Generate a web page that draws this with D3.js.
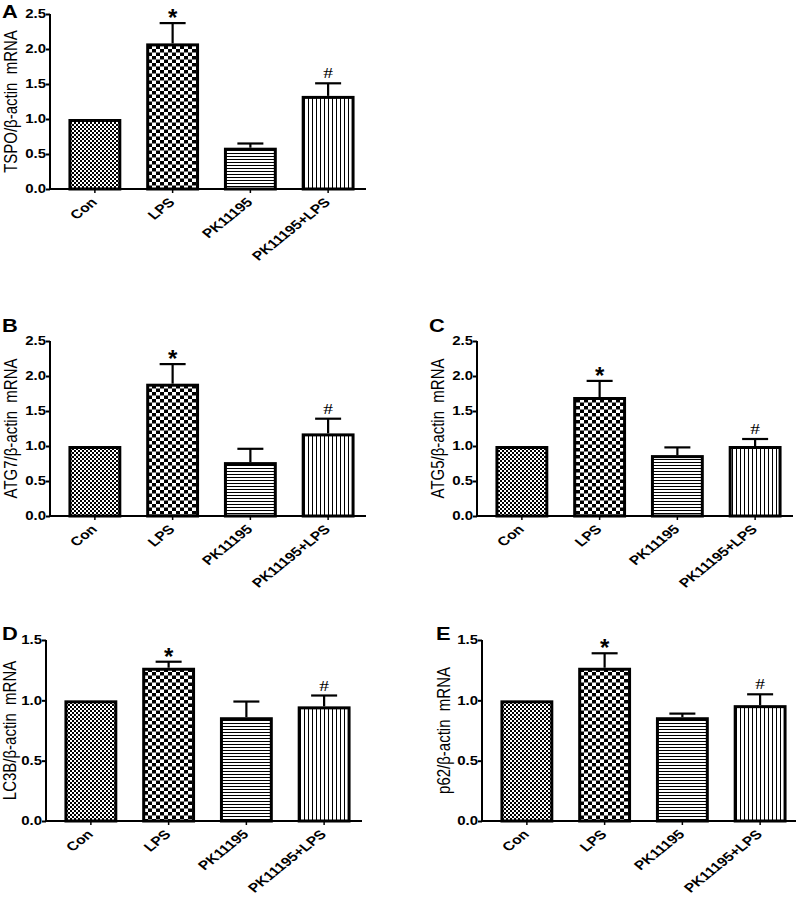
<!DOCTYPE html>
<html>
<head>
<meta charset="utf-8">
<script src="https://cdn.jsdelivr.net/npm/d3@7"></script>
<style>
  body { margin: 0; background: #fff; }
  text { font-family: "Liberation Sans", Arial, sans-serif; }
  .tick text { font-weight: bold; font-size: 12px; }
</style>
</head>
<body>
<div id="figure"></div>
<script>
// groups and values (mean, upper SEM)
var groups = ["Con", "LPS", "PK11195", "PK11195+LPS"];
var marks = ["", "*", "", "#"];

var tspoMean = [1.00, 2.08, 0.59, 1.33];
var tspoErr  = [0.00, 0.29, 0.06, 0.18];
var atg7Mean = [1.00, 1.89, 0.77, 1.18];
var atg7Err  = [0.00, 0.28, 0.19, 0.21];
var atg5Mean = [1.00, 1.70, 0.87, 1.00];
var atg5Err  = [0.00, 0.23, 0.11, 0.10];
var lc3bMean = [1.00, 1.27, 0.86, 0.95];
var lc3bErr  = [0.00, 0.05, 0.13, 0.09];
var p62Mean  = [1.00, 1.27, 0.86, 0.96];
var p62Err   = [0.00, 0.12, 0.03, 0.09];

var ticksTall = [0, 0.5, 1.0, 1.5, 2.0, 2.5];
var ticksShort = [0, 0.5, 1.0, 1.5];

var W = 796, H = 906;
var sx = 1.25; // the figure is stretched sideways, text too

var svg = d3.select("#figure").append("svg")
    .attr("width", W)
    .attr("height", H);

// fill patterns, one per group
var defs = svg.append("defs");

function patternBox(id, w, h) {
  var p = defs.append("pattern")
      .attr("id", id)
      .attr("patternUnits", "userSpaceOnUse")
      .attr("width", w).attr("height", h);
  p.append("rect").attr("width", w).attr("height", h).attr("fill", "#fff");
  return p;
}

var pCon = patternBox("pat-con", 4, 4);
pCon.append("rect").attr("x", 0).attr("y", 0).attr("width", 2).attr("height", 2).attr("fill", "#000");
pCon.append("rect").attr("x", 2).attr("y", 2).attr("width", 2).attr("height", 2).attr("fill", "#000");

var pLps = patternBox("pat-lps", 8, 7);
pLps.append("rect").attr("x", 0).attr("y", 0).attr("width", 4).attr("height", 3.5).attr("fill", "#000");
pLps.append("rect").attr("x", 4).attr("y", 3.5).attr("width", 4).attr("height", 3.5).attr("fill", "#000");

var pPk = patternBox("pat-pk", 3, 3);
pPk.append("rect").attr("x", 0).attr("y", 0).attr("width", 3).attr("height", 1).attr("fill", "#000");

var pPkl = patternBox("pat-pklps", 4, 4);
pPkl.append("rect").attr("x", 0).attr("y", 0).attr("width", 1).attr("height", 4).attr("fill", "#000");

var patterns = ["url(#pat-con)", "url(#pat-lps)", "url(#pat-pk)", "url(#pat-pklps)"];

var panels = [
  {letter: "A", lx: 2,   ly: 18,  left: 50,  top: 14,  bottom: 189, ylx: 17,  ymax: 2.5, ticks: ticksTall,  label: "TSPO/β-actin  mRNA", mean: tspoMean, err: tspoErr},
  {letter: "B", lx: 2,   ly: 332, left: 50,  top: 341, bottom: 516, ylx: 17,  ymax: 2.5, ticks: ticksTall,  label: "ATG7/β-actin  mRNA", mean: atg7Mean, err: atg7Err},
  {letter: "C", lx: 429, ly: 332, left: 477, top: 341, bottom: 516, ylx: 444, ymax: 2.5, ticks: ticksTall,  label: "ATG5/β-actin  mRNA", mean: atg5Mean, err: atg5Err},
  {letter: "D", lx: 2,   ly: 640, left: 46,  top: 640, bottom: 821, ylx: 16,  ymax: 1.5, ticks: ticksShort, label: "LC3B/β-actin  mRNA", mean: lc3bMean, err: lc3bErr},
  {letter: "E", lx: 436, ly: 640, left: 482, top: 640, bottom: 821, ylx: 450, ymax: 1.5, ticks: ticksShort, label: "p62/β-actin  mRNA",  mean: p62Mean,  err: p62Err}
];

function drawPanel(cfg) {
  var g = svg.append("g");
  var right = cfg.left + 316;

  var x = d3.scaleBand()
      .domain(groups)
      .range([cfg.left + 6, cfg.left + 6 + 311])
      .paddingInner(0.32)
      .paddingOuter(0.16);

  var y = d3.scaleLinear()
      .domain([0, cfg.ymax])
      .range([cfg.bottom, cfg.top]);

  var rows = groups.map(function(gr, i) {
    return {name: gr, mean: cfg.mean[i], err: cfg.err[i], mark: marks[i], fill: patterns[i]};
  });

  // error bars (upper only)
  var eb = g.selectAll(".err").data(rows.filter(function(d) { return d.err > 0; }))
    .enter().append("g").attr("class", "err");
  eb.append("line")
      .attr("x1", function(d) { return x(d.name) + x.bandwidth() / 2; })
      .attr("x2", function(d) { return x(d.name) + x.bandwidth() / 2; })
      .attr("y1", function(d) { return y(d.mean); })
      .attr("y2", function(d) { return y(d.mean + d.err); })
      .attr("stroke", "#000").attr("stroke-width", 2.2);
  eb.append("line")
      .attr("x1", function(d) { return x(d.name) + x.bandwidth() / 2 - 13; })
      .attr("x2", function(d) { return x(d.name) + x.bandwidth() / 2 + 13; })
      .attr("y1", function(d) { return y(d.mean + d.err); })
      .attr("y2", function(d) { return y(d.mean + d.err); })
      .attr("stroke", "#000").attr("stroke-width", 2.2);

  // bars
  g.selectAll(".bar").data(rows)
    .enter().append("rect")
      .attr("class", "bar")
      .attr("x", function(d) { return x(d.name) + 1.5; })
      .attr("width", x.bandwidth() - 3)
      .attr("y", function(d) { return y(d.mean) + 1.5; })
      .attr("height", function(d) { return y(0) - y(d.mean) - 1.5; })
      .attr("fill", function(d) { return d.fill; })
      .attr("stroke", "#000")
      .attr("stroke-width", 3);

  // significance marks
  g.selectAll(".sig").data(rows.filter(function(d) { return d.mark; }))
    .enter().append("text")
      .attr("class", "sig")
      .attr("transform", function(d) {
        var yy = d.mark == "*" ? y(d.mean + d.err) + 3 : y(d.mean + d.err) - 5;
        return "translate(" + (x(d.name) + x.bandwidth() / 2) + "," + yy + ") scale(" + (d.mark == "*" ? 1 : 1.3) + ",1)";
      })
      .attr("text-anchor", "middle")
      .style("font-family", function(d) { return d.mark == "*" ? "'Liberation Sans', Arial" : "'Liberation Serif', 'Times New Roman'"; })
      .style("font-weight", function(d) { return d.mark == "*" ? "bold" : "normal"; })
      .style("font-size", function(d) { return d.mark == "*" ? "24px" : "15px"; })
      .text(function(d) { return d.mark; });

  // y axis
  var yAxis = g.append("g")
      .attr("transform", "translate(" + cfg.left + ",0)")
      .call(d3.axisLeft(y).tickValues(cfg.ticks).tickFormat(d3.format(".1f")).tickSize(4));
  yAxis.select(".domain").attr("stroke-width", 2).attr("d", "M0," + cfg.top + "V" + cfg.bottom);
  yAxis.selectAll(".tick line").attr("stroke-width", 2);
  yAxis.selectAll(".tick text")
      .attr("fill", "#000")
      .attr("x", -4 / sx)
      .attr("transform", "scale(" + sx + ",1)");

  // x axis
  var xAxis = g.append("g")
      .attr("transform", "translate(0," + cfg.bottom + ")")
      .call(d3.axisBottom(x).tickSize(4).tickFormat(""));
  xAxis.select(".domain").attr("stroke-width", 2).attr("d", "M" + cfg.left + ",0H" + right);
  xAxis.selectAll(".tick line").attr("stroke-width", 1.5);

  g.selectAll(".xlab").data(groups)
    .enter().append("text")
      .attr("class", "xlab")
      .attr("transform", function(d) {
        return "translate(" + (x(d) + x.bandwidth() / 2 + 3) + "," + (cfg.bottom + 14) + ") scale(" + sx + ",1) rotate(-45)";
      })
      .attr("text-anchor", "end")
      .style("font-weight", "bold")
      .style("font-size", "12.5px")
      .text(function(d) { return d; });

  // y label
  g.append("text")
      .attr("transform", "translate(" + cfg.ylx + "," + ((cfg.top + cfg.bottom) / 2) + ") scale(" + sx + ",1) rotate(-90)")
      .attr("text-anchor", "middle")
      .style("font-size", "15px")
      .style("white-space", "pre")
      .text(cfg.label);

  // panel letter
  svg.append("text")
      .attr("transform", "translate(" + cfg.lx + "," + cfg.ly + ") scale(" + sx + ",1)")
      .style("font-weight", "bold")
      .style("font-size", "17.5px")
      .text(cfg.letter);
}

panels.forEach(drawPanel);
</script>
</body>
</html>
